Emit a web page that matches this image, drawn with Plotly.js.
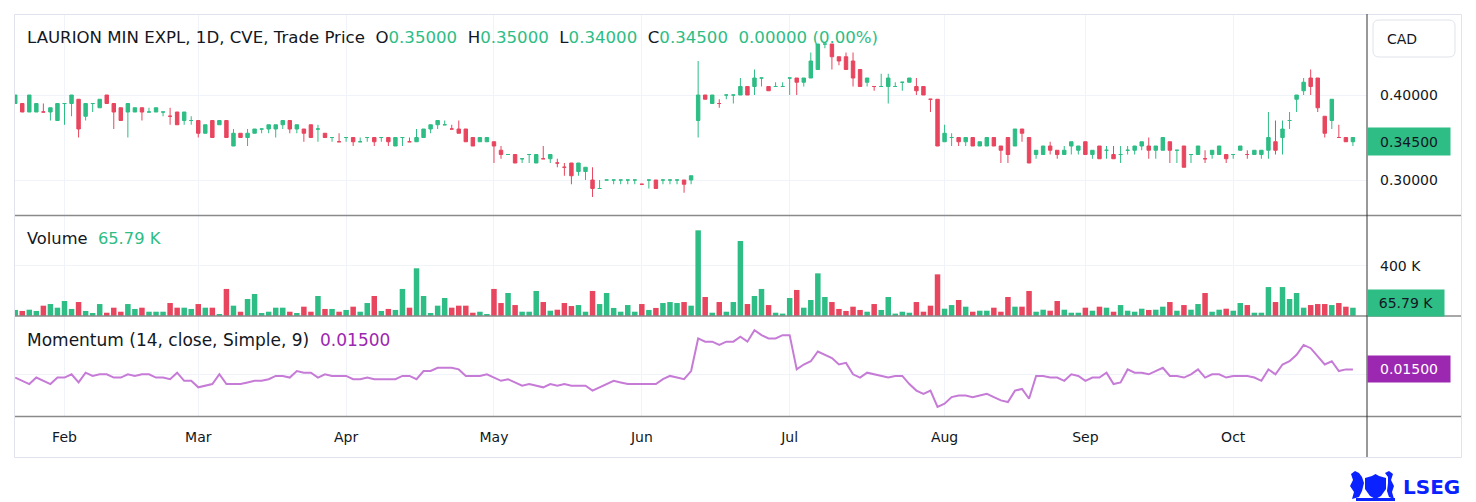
<!DOCTYPE html>
<html>
<head>
<meta charset="utf-8">
<script src="https://cdn.plot.ly/plotly-3.0.1.min.js"></script>
<style>
  html, body { margin: 0; padding: 0; background: #ffffff; }
  #chart { width: 1476px; height: 502px; }
</style>
</head>
<body>
<div id="chart"></div>
<script>
// LAURION MIN EXPL (CVE), daily bars, Jan 23 - Oct 2025
const months = ['Feb', 'Mar', 'Apr', 'May', 'Jun', 'Jul', 'Aug', 'Sep', 'Oct'];
const monthStartIdx = [7, 26, 47, 68, 89, 110, 132, 152, 173];

const open = [
  0.39,0.39,0.38,0.38,0.38,0.38,0.37,0.39,0.39,0.395,
  0.375,0.39,0.385,0.40,0.39,0.385,0.38,0.38,0.385,0.38,
  0.38,0.38,0.375,0.38,0.37,0.37,0.37,0.355,0.37,0.365,
  0.37,0.34,0.355,0.35,0.355,0.36,0.36,0.36,0.365,0.37,
  0.36,0.36,0.365,0.36,0.355,0.35,0.345,0.35,0.35,0.345,
  0.35,0.35,0.35,0.35,0.34,0.35,0.345,0.345,0.35,0.36,
  0.365,0.365,0.36,0.36,0.36,0.35,0.345,0.345,0.345,0.335,
  0.33,0.33,0.325,0.33,0.32,0.325,0.325,0.32,0.315,0.32,
  0.31,0.31,0.30,0.29,0.30,0.30,0.30,0.30,0.30,0.295,
  0.30,0.30,0.30,0.30,0.30,0.30,0.30,0.37,0.40,0.39,
  0.39,0.40,0.40,0.40,0.41,0.41,0.42,0.41,0.41,0.41,
  0.42,0.42,0.415,0.42,0.43,0.46,0.46,0.445,0.445,0.44,
  0.43,0.415,0.41,0.41,0.41,0.41,0.415,0.415,0.41,0.41,
  0.395,0.395,0.345,0.35,0.35,0.345,0.35,0.34,0.34,0.35,
  0.34,0.35,0.34,0.36,0.35,0.33,0.33,0.34,0.335,0.33,
  0.34,0.335,0.345,0.33,0.34,0.335,0.33,0.33,0.335,0.335,
  0.34,0.34,0.335,0.335,0.345,0.335,0.34,0.33,0.33,0.325,
  0.33,0.33,0.33,0.33,0.335,0.33,0.33,0.33,0.335,0.345,
  0.35,0.37,0.395,0.405,0.42,0.42,0.375,0.37,0.35,0.35,0.35
];
const high = [
  0.40,0.39,0.40,0.39,0.39,0.385,0.39,0.39,0.40,0.395,
  0.39,0.39,0.395,0.40,0.39,0.385,0.39,0.385,0.385,0.385,
  0.385,0.38,0.385,0.38,0.38,0.375,0.37,0.365,0.37,0.37,
  0.37,0.36,0.355,0.36,0.36,0.36,0.365,0.365,0.37,0.37,
  0.365,0.36,0.365,0.365,0.355,0.35,0.355,0.35,0.35,0.35,
  0.35,0.35,0.35,0.35,0.35,0.35,0.35,0.36,0.36,0.365,
  0.37,0.37,0.365,0.37,0.36,0.35,0.35,0.35,0.345,0.34,
  0.33,0.33,0.325,0.33,0.33,0.34,0.33,0.325,0.32,0.32,
  0.32,0.315,0.315,0.30,0.30,0.30,0.30,0.30,0.30,0.295,
  0.30,0.30,0.30,0.30,0.30,0.30,0.305,0.44,0.40,0.40,
  0.395,0.40,0.40,0.42,0.41,0.43,0.42,0.41,0.415,0.415,
  0.42,0.42,0.42,0.45,0.46,0.46,0.46,0.445,0.45,0.45,
  0.43,0.42,0.41,0.425,0.425,0.415,0.415,0.42,0.42,0.41,
  0.395,0.395,0.365,0.355,0.35,0.35,0.35,0.345,0.35,0.35,
  0.34,0.35,0.36,0.36,0.35,0.335,0.34,0.345,0.335,0.34,
  0.345,0.34,0.345,0.335,0.34,0.34,0.34,0.34,0.34,0.34,
  0.345,0.35,0.34,0.35,0.345,0.335,0.34,0.33,0.34,0.335,
  0.335,0.34,0.33,0.33,0.34,0.335,0.335,0.335,0.38,0.37,
  0.37,0.38,0.40,0.42,0.43,0.42,0.375,0.395,0.365,0.35,0.35
];
const low = [
  0.39,0.38,0.38,0.38,0.38,0.37,0.37,0.365,0.375,0.35,
  0.37,0.38,0.385,0.39,0.36,0.37,0.35,0.38,0.37,0.38,
  0.38,0.375,0.365,0.365,0.365,0.365,0.35,0.355,0.35,0.365,
  0.35,0.34,0.35,0.34,0.355,0.355,0.355,0.35,0.36,0.355,
  0.355,0.345,0.35,0.345,0.35,0.345,0.345,0.345,0.34,0.345,
  0.345,0.34,0.345,0.34,0.34,0.34,0.345,0.345,0.35,0.355,
  0.36,0.365,0.36,0.355,0.345,0.34,0.345,0.345,0.32,0.325,
  0.33,0.32,0.32,0.32,0.32,0.325,0.32,0.315,0.305,0.295,
  0.305,0.30,0.28,0.29,0.30,0.295,0.295,0.295,0.295,0.295,
  0.29,0.29,0.295,0.295,0.295,0.285,0.295,0.35,0.395,0.39,
  0.385,0.395,0.39,0.40,0.40,0.40,0.41,0.405,0.41,0.41,
  0.40,0.40,0.41,0.42,0.43,0.455,0.43,0.435,0.43,0.41,
  0.41,0.41,0.405,0.41,0.39,0.41,0.405,0.415,0.40,0.40,
  0.38,0.34,0.345,0.34,0.34,0.34,0.34,0.34,0.34,0.34,
  0.32,0.32,0.34,0.345,0.32,0.325,0.33,0.33,0.325,0.33,
  0.33,0.33,0.33,0.325,0.325,0.325,0.325,0.32,0.33,0.33,
  0.335,0.325,0.325,0.335,0.32,0.32,0.315,0.32,0.33,0.32,
  0.325,0.33,0.32,0.325,0.335,0.325,0.33,0.325,0.325,0.33,
  0.33,0.36,0.38,0.40,0.40,0.38,0.35,0.36,0.35,0.345,0.34
];
const close = [
  0.40,0.38,0.40,0.39,0.38,0.385,0.39,0.39,0.40,0.36,
  0.39,0.39,0.395,0.39,0.38,0.37,0.39,0.385,0.38,0.38,
  0.385,0.38,0.375,0.365,0.38,0.37,0.355,0.365,0.35,0.37,
  0.35,0.355,0.35,0.355,0.36,0.36,0.365,0.365,0.37,0.36,
  0.365,0.355,0.35,0.36,0.35,0.35,0.345,0.35,0.345,0.345,
  0.35,0.345,0.35,0.345,0.35,0.35,0.345,0.35,0.36,0.365,
  0.37,0.365,0.36,0.355,0.345,0.34,0.35,0.35,0.34,0.33,
  0.33,0.32,0.325,0.33,0.33,0.325,0.33,0.32,0.315,0.305,
  0.32,0.315,0.29,0.29,0.30,0.30,0.30,0.30,0.30,0.295,
  0.30,0.29,0.30,0.30,0.30,0.295,0.305,0.40,0.395,0.40,
  0.39,0.40,0.40,0.41,0.40,0.42,0.42,0.405,0.41,0.41,
  0.42,0.415,0.42,0.44,0.46,0.46,0.445,0.44,0.43,0.42,
  0.41,0.42,0.41,0.41,0.42,0.41,0.415,0.42,0.405,0.40,
  0.395,0.34,0.355,0.35,0.345,0.35,0.34,0.345,0.35,0.34,
  0.335,0.33,0.36,0.355,0.32,0.335,0.34,0.335,0.33,0.335,
  0.345,0.34,0.33,0.335,0.325,0.335,0.325,0.33,0.335,0.34,
  0.345,0.335,0.34,0.35,0.335,0.335,0.315,0.33,0.34,0.325,
  0.335,0.34,0.325,0.33,0.34,0.33,0.335,0.335,0.35,0.335,
  0.36,0.37,0.40,0.415,0.41,0.385,0.355,0.395,0.35,0.345,0.345
];
// 1 = drawn green, 0 = drawn red (as coloured on the chart)
const barUp = [
  1,0,1,1,0,1,1,1,1,0,
  1,1,1,0,0,0,1,1,0,1,
  1,1,0,0,1,1,0,1,0,1,
  0,1,0,1,1,1,1,1,1,0,
  1,0,0,1,0,1,0,1,0,1,
  1,0,1,0,1,1,0,1,1,1,
  1,1,0,0,0,0,1,1,0,0,
  1,0,1,1,1,0,1,0,0,0,
  1,1,0,1,1,1,1,1,1,0,
  1,0,1,1,1,0,1,1,0,1,
  0,1,1,1,0,1,1,0,1,1,
  1,0,1,1,1,1,0,0,0,0,
  0,1,0,1,1,1,1,1,0,0,
  0,0,1,1,0,1,0,1,1,0,
  0,0,1,0,0,1,1,0,0,1,
  1,1,0,1,0,1,0,1,1,1,
  1,0,1,1,0,1,0,1,1,0,
  1,1,0,1,1,0,1,1,1,0,
  1,1,1,1,0,0,0,1,0,0,1
];
// volume in thousands of shares
const volumeK = [
  48,40,50,40,82,95,66,119,56,111,
  40,24,95,26,66,34,95,56,66,34,
  34,34,103,66,66,56,95,66,66,16,
  215,82,34,135,175,24,34,66,66,34,
  24,74,34,159,56,56,34,48,74,34,
  103,159,40,56,48,215,66,379,159,24,
  82,143,66,82,82,26,34,16,215,103,
  183,87,34,34,199,111,42,50,103,79,
  87,34,199,95,183,64,34,87,34,95,
  48,64,103,111,103,111,82,681,151,26,
  111,34,111,596,95,159,215,87,26,19,
  143,207,66,127,339,151,111,56,40,74,
  48,34,95,48,151,19,34,26,111,34,
  82,331,58,87,127,74,34,42,42,66,
  34,151,74,74,199,34,50,42,119,50,
  26,26,66,42,74,66,34,87,42,34,
  58,48,50,74,111,42,87,50,95,183,
  34,50,58,42,103,87,26,26,230,111,
  230,135,183,66,87,95,95,87,103,74,65.79
];
// Momentum (14, close)
const momentum = [
  -0.01,-0.02,-0.03,-0.01,-0.02,-0.03,-0.01,-0.01,0,-0.025,
  0.005,-0.005,0,0,-0.01,-0.01,0,-0.005,0,0,
  -0.01,-0.01,-0.015,0.005,-0.02,-0.02,-0.04,-0.035,-0.03,0,
  -0.03,-0.03,-0.03,-0.025,-0.02,-0.02,-0.015,-0.005,-0.005,-0.01,
  0.01,0.005,0.005,-0.01,0,-0.005,-0.005,-0.005,-0.015,-0.015,
  -0.01,-0.015,-0.015,-0.015,-0.015,-0.005,-0.005,-0.015,0.01,0.01,
  0.02,0.02,0.02,0.015,-0.005,-0.005,-0.005,0,-0.01,-0.02,
  -0.015,-0.025,-0.035,-0.03,-0.035,-0.04,-0.03,-0.035,-0.03,-0.035,
  -0.035,-0.035,-0.05,-0.04,-0.03,-0.02,-0.025,-0.03,-0.03,-0.03,
  -0.03,-0.03,-0.015,-0.005,-0.01,-0.015,0.01,0.11,0.10,0.10,
  0.09,0.10,0.10,0.115,0.10,0.135,0.12,0.11,0.11,0.12,
  0.12,0.015,0.03,0.04,0.07,0.06,0.05,0.03,0.035,0,
  -0.01,0.005,0,-0.005,-0.01,-0.005,-0.005,-0.03,-0.05,-0.06,
  -0.05,-0.10,-0.09,-0.07,-0.065,-0.065,-0.07,-0.065,-0.06,-0.07,
  -0.08,-0.085,-0.05,-0.045,-0.075,-0.005,-0.005,-0.01,-0.01,-0.02,
  0,-0.005,-0.02,-0.01,-0.01,0.005,-0.03,-0.025,0.015,0.005,
  0.005,0,0.01,0.02,-0.005,-0.005,-0.01,0,0.015,-0.01,
  0,0,-0.01,-0.005,-0.005,-0.005,-0.01,-0.02,0.015,0,
  0.03,0.04,0.06,0.09,0.08,0.055,0.03,0.04,0.01,0.015,0.015
];

const GREEN = '#2ebd85';
const RED = '#e8455e';
const PURPLE = '#9c27b0';
const PURPLE_LINE = '#c67bd6';
const TEXT = '#131722';
const GRID = '#f0f3fa';
const FONT = 'DejaVu Sans, sans-serif';

// plot area in page pixels, used to place labels and frame lines
const plotL = 15, plotR = 1367, plotT = 15, plotB = 416;
const px = v => (v - plotL) / (plotR - plotL);
const py = v => (plotB - v) / (plotB - plotT);

const idx = close.map((_, i) => i);
const last = close.length - 1;

function candles(flag, color) {
  const keep = idx.filter(i => barUp[i] === flag);
  const side = { line: { color: color, width: 1 }, fillcolor: color };
  return {
    type: 'candlestick',
    x: keep,
    open: keep.map(i => open[i]),
    high: keep.map(i => high[i]),
    low: keep.map(i => low[i]),
    close: keep.map(i => close[i]),
    increasing: side,
    decreasing: side,
    whiskerwidth: 0,
    xaxis: 'x', yaxis: 'y',
    hoverinfo: 'skip',
    showlegend: false
  };
}

const volumeTrace = {
  type: 'bar',
  x: idx,
  y: volumeK,
  width: 0.78,
  marker: { color: barUp.map(u => (u ? GREEN : RED)), line: { width: 0 } },
  xaxis: 'x', yaxis: 'y2',
  hoverinfo: 'skip',
  showlegend: false
};

const momentumTrace = {
  type: 'scatter',
  mode: 'lines',
  x: idx,
  y: momentum,
  line: { color: PURPLE_LINE, width: 2 },
  xaxis: 'x', yaxis: 'y3',
  hoverinfo: 'skip',
  showlegend: false
};

const f5 = v => v.toFixed(5);
const chg = close[last] - close[last - 1];
const chgPct = chg / close[last - 1] * 100;
const sp = '&nbsp;&nbsp;';
const g = t => `<span style="color:${GREEN}">${t}</span>`;
const legendText = 'LAURION MIN EXPL, 1D, CVE, Trade Price' + sp +
  'O' + g(f5(open[last])) + sp + 'H' + g(f5(high[last])) + sp +
  'L' + g(f5(low[last])) + sp + 'C' + g(f5(close[last])) + sp +
  g(f5(Math.abs(chg)) + ' (' + Math.abs(chgPct).toFixed(2) + '%)');
const volText = volumeK[last].toFixed(2) + ' K';
const momText = f5(momentum[last]);

const separators = [215.5, 316, 416.5].map(y => ({
  type: 'line', xref: 'paper', yref: 'paper',
  x0: px(15), x1: px(1461), y0: py(y), y1: py(y),
  line: { color: '#8a8a8a', width: 1.5 }
}));

function roundRect(x0, y0, x1, y1, r) {
  const X = v => px(v), Y = v => py(v);
  return `M${X(x0 + r)},${Y(y0)} L${X(x1 - r)},${Y(y0)} Q${X(x1)},${Y(y0)} ${X(x1)},${Y(y0 + r)} ` +
    `L${X(x1)},${Y(y1 - r)} Q${X(x1)},${Y(y1)} ${X(x1 - r)},${Y(y1)} L${X(x0 + r)},${Y(y1)} ` +
    `Q${X(x0)},${Y(y1)} ${X(x0)},${Y(y1 - r)} L${X(x0)},${Y(y0 + r)} Q${X(x0)},${Y(y0)} ${X(x0 + r)},${Y(y0)} Z`;
}
function poly(pts) {
  return 'M' + pts.map(p => `${px(p[0])},${py(p[1])}`).join(' L') + ' Z';
}

const CREST = '#0a22ff';
const shapes = [
  { type: 'rect', xref: 'paper', yref: 'paper', x0: px(14.5), x1: px(1461.5), y0: py(14.5), y1: py(457.5),
    line: { color: '#e0e3eb', width: 1 }, layer: 'below' },
  ...separators,
  { type: 'line', xref: 'paper', yref: 'paper', x0: px(1367), x1: px(1367), y0: py(14), y1: py(457),
    line: { color: '#333333', width: 1 } },
  { type: 'path', xref: 'paper', yref: 'paper', path: roundRect(1373, 20, 1455, 57, 6),
    line: { color: '#e0e3eb', width: 1 }, fillcolor: '#ffffff' },
  // LSEG crest (rough outline: shield with two supporters)
  { type: 'path', xref: 'paper', yref: 'paper', line: { width: 0 }, fillcolor: CREST,
    path: poly([[1365, 478], [1372, 476], [1375.5, 474], [1379, 476], [1386, 478], [1386, 489], [1381, 496], [1375.5, 499], [1370, 496], [1365, 489]]) },
  { type: 'path', xref: 'paper', yref: 'paper', line: { width: 0 }, fillcolor: CREST,
    path: poly([[1351, 474], [1355, 471], [1359, 473], [1362, 477], [1364, 483], [1362, 491], [1359, 497], [1352, 499], [1354, 492], [1350, 486], [1353, 480]]) },
  { type: 'path', xref: 'paper', yref: 'paper', line: { width: 0 }, fillcolor: CREST,
    path: poly([[1393, 474], [1389, 471], [1385, 473], [1388, 477], [1388, 483], [1387, 491], [1389, 497], [1394, 499], [1392, 492], [1394, 486], [1391, 480]]) },
  { type: 'path', xref: 'paper', yref: 'paper', line: { width: 0 }, fillcolor: CREST,
    path: poly([[1356, 498], [1395, 498], [1395, 501], [1356, 501]]) }
];

const annotations = [
  { xref: 'paper', yref: 'paper', x: px(25), y: py(38), xanchor: 'left', yanchor: 'middle',
    text: legendText, showarrow: false, font: { family: FONT, size: 16.6, color: TEXT } },
  { xref: 'paper', yref: 'paper', x: px(25), y: py(238), xanchor: 'left', yanchor: 'middle',
    text: 'Volume' + sp + g(volText), showarrow: false, font: { family: FONT, size: 16.3, color: TEXT } },
  { xref: 'paper', yref: 'paper', x: px(25), y: py(340), xanchor: 'left', yanchor: 'middle',
    text: 'Momentum (14, close, Simple, 9)' + sp + `<span style="color:${PURPLE}">${momText}</span>`,
    showarrow: false, font: { family: FONT, size: 17, color: TEXT } },
  { xref: 'paper', yref: 'y', x: 1, y: close[last], xanchor: 'left', yanchor: 'middle',
    text: f5(close[last]), showarrow: false, bgcolor: GREEN, width: 76, height: 21, borderpad: 3,
    font: { family: FONT, size: 14, color: TEXT } },
  { xref: 'paper', yref: 'paper', x: 1, y: py(303), xanchor: 'left', yanchor: 'middle',
    text: volText, showarrow: false, bgcolor: GREEN, width: 70, height: 20, borderpad: 3,
    font: { family: FONT, size: 14, color: TEXT } },
  { xref: 'paper', yref: 'y3', x: 1, y: momentum[last], xanchor: 'left', yanchor: 'middle',
    text: momText, showarrow: false, bgcolor: PURPLE, width: 76, height: 20, borderpad: 3,
    font: { family: FONT, size: 14, color: '#ffffff' } },
  { xref: 'paper', yref: 'paper', x: px(1385), y: py(39), xanchor: 'left', yanchor: 'middle',
    text: 'CAD', showarrow: false, font: { family: FONT, size: 14, color: TEXT } },
  { xref: 'paper', yref: 'paper', x: px(1431), y: py(487), xanchor: 'center', yanchor: 'middle',
    text: '<b>LSEG</b>', showarrow: false, font: { family: FONT, size: 20, color: CREST } }
];

const layout = {
  width: 1476,
  height: 502,
  margin: { l: plotL, r: 1476 - plotR, t: plotT, b: 502 - plotB },
  paper_bgcolor: '#ffffff',
  plot_bgcolor: '#ffffff',
  font: { family: FONT, size: 14, color: TEXT },
  showlegend: false,
  xaxis: {
    range: [-0.03, 192],
    tickvals: monthStartIdx,
    ticktext: months,
    showgrid: true, gridcolor: GRID,
    zeroline: false, showline: false, ticks: '',
    tickfont: { family: FONT, size: 14, color: TEXT },
    ticklabelstandoff: 11,
    anchor: 'y3',
    rangeslider: { visible: false },
    fixedrange: true
  },
  yaxis: {
    domain: [0.5012, 1],
    range: [0.25882, 0.49412],
    side: 'right', dtick: 0.1, tick0: 0, tickformat: '.5f',
    showgrid: true, gridcolor: GRID, zeroline: false, showline: false, ticks: '',
    ticklabelstandoff: 12, anchor: 'x', fixedrange: true
  },
  yaxis2: {
    domain: [0.2494, 0.5012],
    range: [0, 802.6],
    side: 'right', tickvals: [400], ticktext: ['400 K'],
    showgrid: true, gridcolor: GRID, zeroline: false, showline: false, ticks: '',
    ticklabelstandoff: 12, anchor: 'x', fixedrange: true
  },
  yaxis3: {
    domain: [0, 0.2494],
    range: [-0.1279, 0.1788],
    side: 'right', tickvals: [0], showticklabels: false,
    showgrid: true, gridcolor: GRID, zeroline: false, showline: false, ticks: '',
    anchor: 'x', fixedrange: true
  },
  boxgap: 0.3,
  shapes: shapes,
  annotations: annotations
};

Plotly.newPlot('chart',
  [volumeTrace, momentumTrace, candles(1, GREEN), candles(0, RED)],
  layout,
  { displayModeBar: false, staticPlot: true });
</script>
</body>
</html>
